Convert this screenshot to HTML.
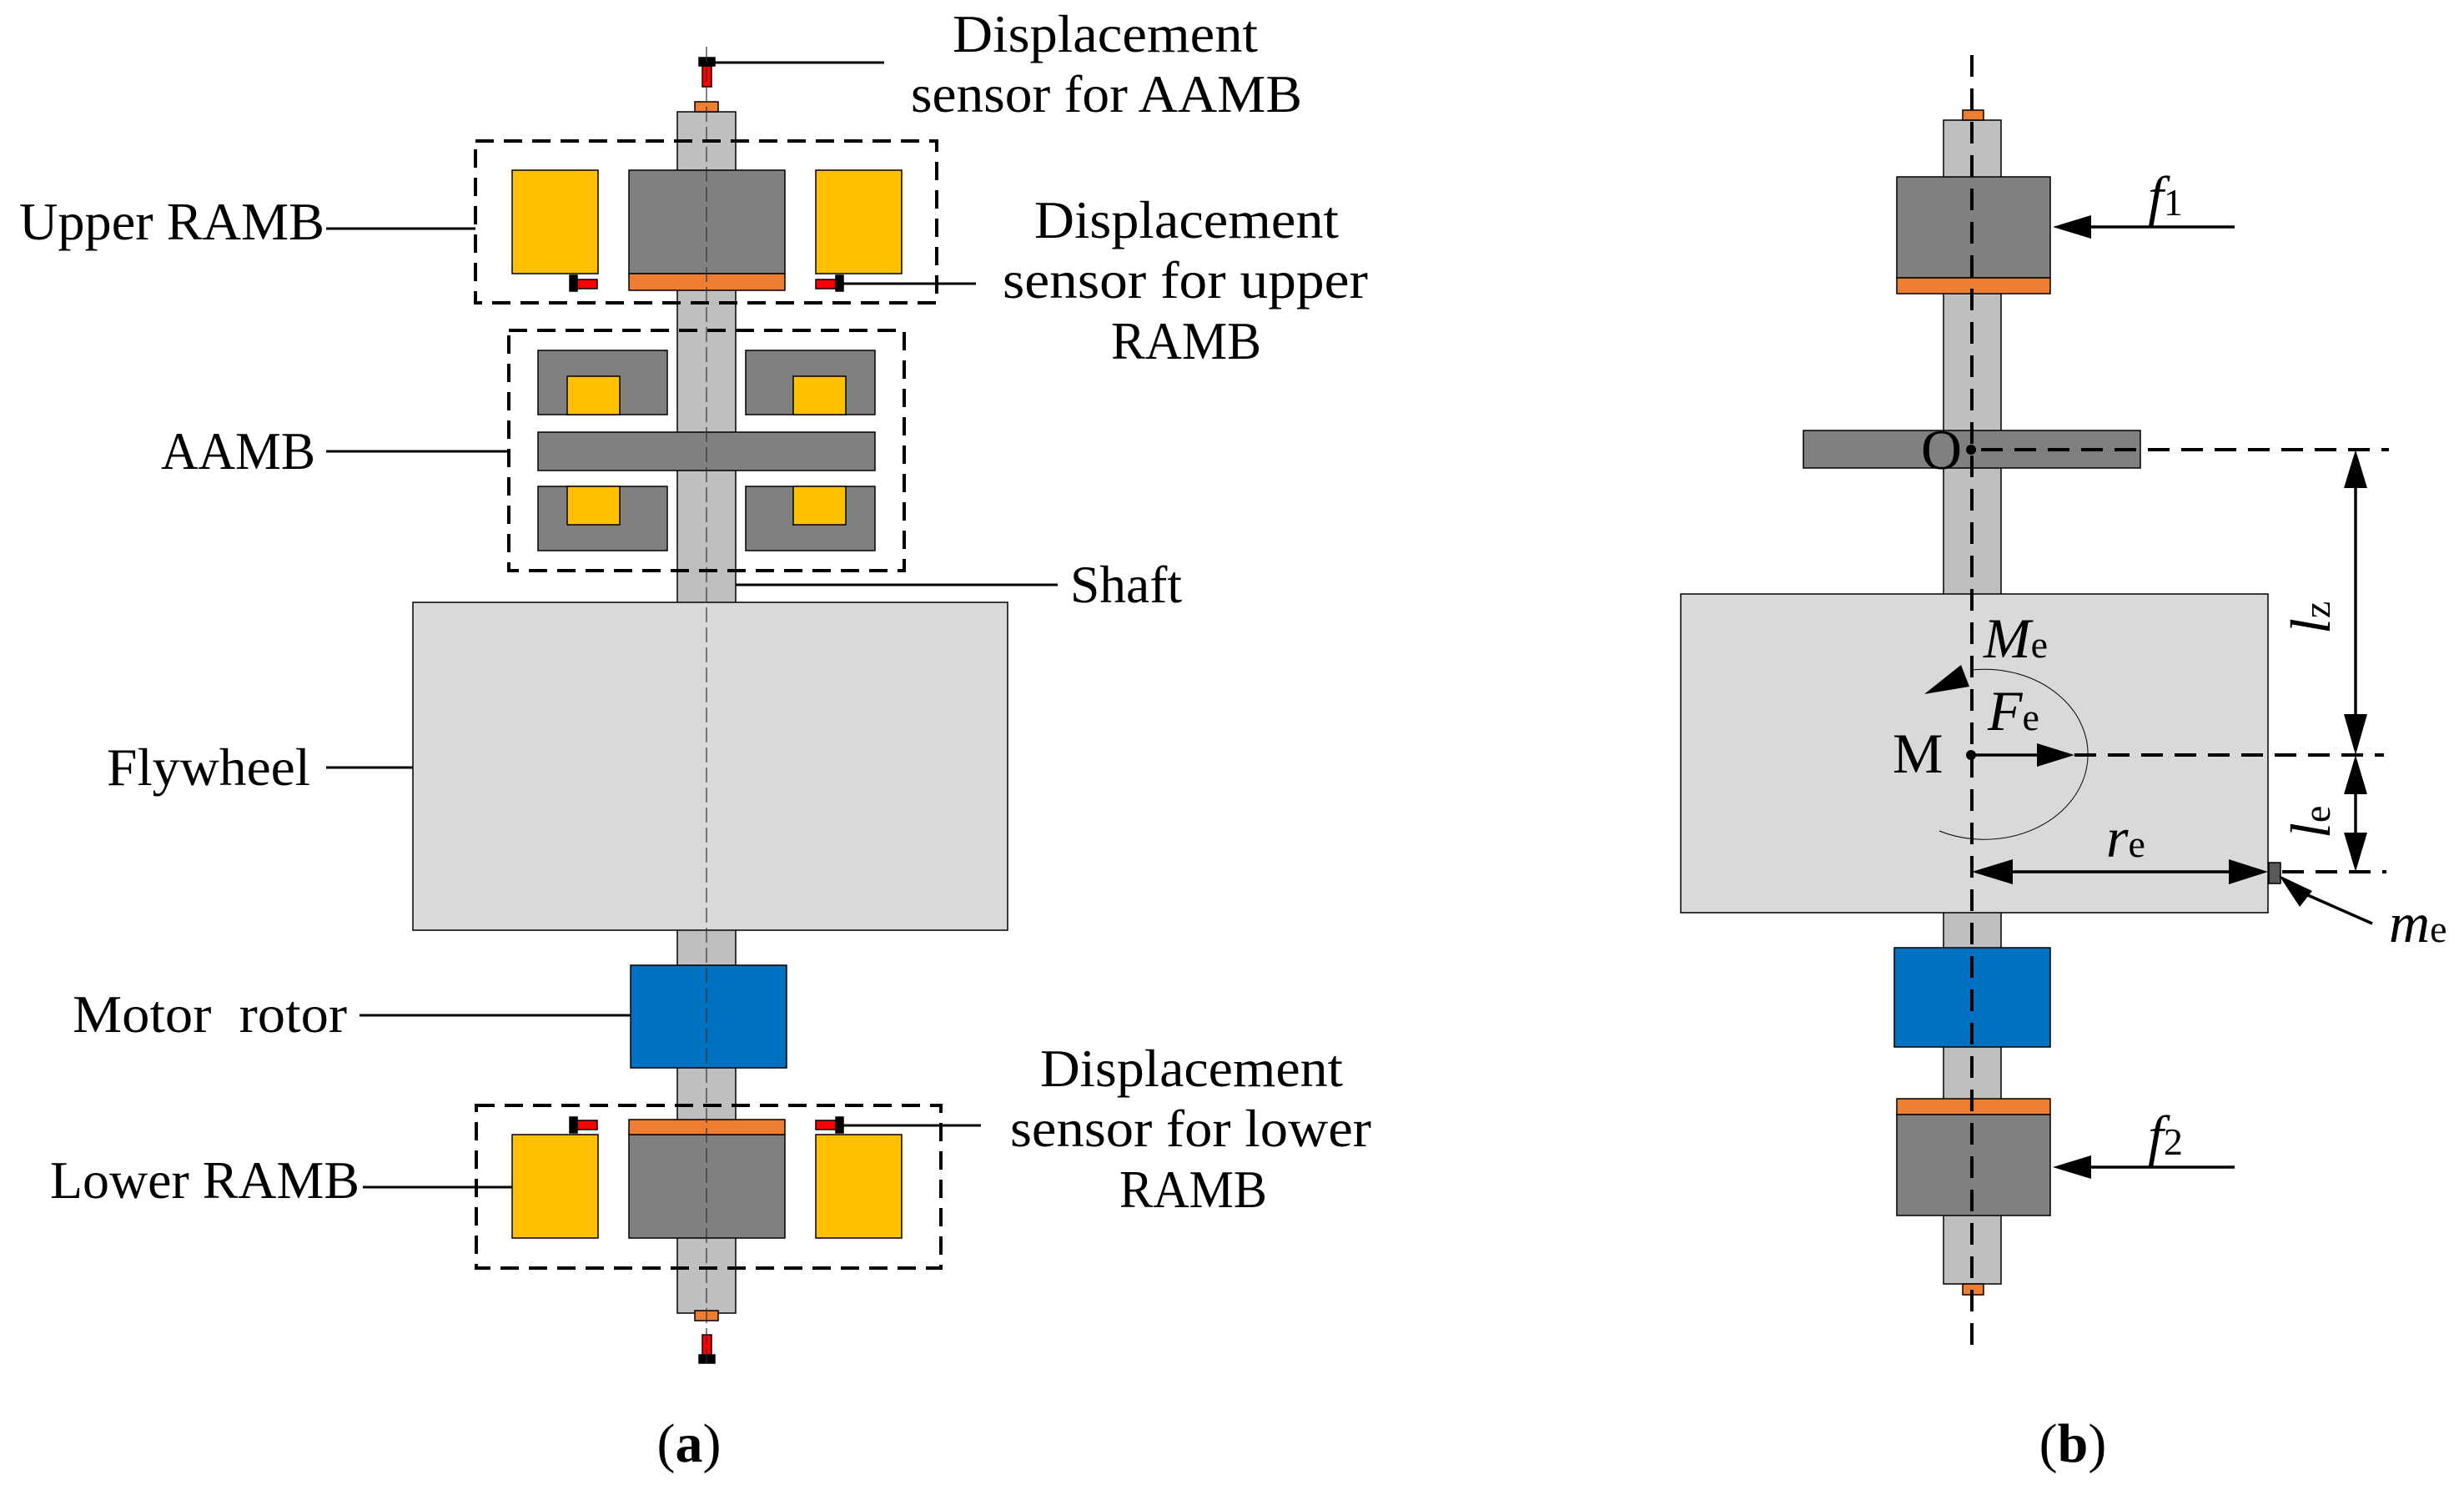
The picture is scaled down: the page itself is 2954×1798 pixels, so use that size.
<!DOCTYPE html>
<html><head><meta charset="utf-8"><style>
html,body{margin:0;padding:0;background:#fff}
svg{display:block}
text{font-family:"Liberation Serif",serif;fill:#000}
</style></head><body>
<svg width="2954" height="1798" viewBox="0 0 2954 1798" xmlns="http://www.w3.org/2000/svg">
<g stroke="#000" stroke-width="1.5">
<rect x="812" y="134" width="70" height="1440" fill="#bfbfbf"/>
<rect x="614" y="204" width="103" height="124" fill="#ffc000"/>
<rect x="978" y="204" width="103" height="124" fill="#ffc000"/>
<rect x="754" y="204" width="187" height="124" fill="#808080"/>
<rect x="754" y="328" width="187" height="20" fill="#ed7d31"/>
<rect x="692" y="335" width="24" height="11" fill="#ff0000"/>
<rect x="683" y="330" width="9" height="19" fill="#000"/>
<rect x="978" y="335" width="24" height="11" fill="#ff0000"/>
<rect x="1002" y="330" width="9" height="19" fill="#000"/>
<rect x="645" y="420" width="155" height="77" fill="#808080"/>
<rect x="680" y="451" width="63" height="46" fill="#ffc000"/>
<rect x="894" y="420" width="155" height="77" fill="#808080"/>
<rect x="951" y="451" width="63" height="46" fill="#ffc000"/>
<rect x="645" y="518" width="404" height="46" fill="#808080"/>
<rect x="645" y="583" width="155" height="77" fill="#808080"/>
<rect x="680" y="583" width="63" height="46" fill="#ffc000"/>
<rect x="894" y="583" width="155" height="77" fill="#808080"/>
<rect x="951" y="583" width="63" height="46" fill="#ffc000"/>
<rect x="495" y="722" width="713" height="393" fill="#d9d9d9"/>
<rect x="756" y="1157" width="187" height="123" fill="#0070c0"/>
<rect x="614" y="1360" width="103" height="124" fill="#ffc000"/>
<rect x="978" y="1360" width="103" height="124" fill="#ffc000"/>
<rect x="754" y="1360" width="187" height="124" fill="#808080"/>
<rect x="754" y="1342" width="187" height="18" fill="#ed7d31"/>
<rect x="692" y="1343" width="24" height="11" fill="#ff0000"/>
<rect x="683" y="1339" width="9" height="19" fill="#000"/>
<rect x="978" y="1343" width="24" height="11" fill="#ff0000"/>
<rect x="1002" y="1339" width="9" height="19" fill="#000"/>
<rect x="833" y="122" width="28" height="12" fill="#ed7d31"/>
<rect x="842" y="79" width="11" height="25" fill="#ff0000"/>
<rect x="838" y="69" width="19" height="10" fill="#000"/>
<rect x="833" y="1571" width="28" height="12" fill="#ed7d31"/>
<rect x="842" y="1600" width="11" height="24" fill="#ff0000"/>
<rect x="838" y="1624" width="19" height="10" fill="#000"/>
</g>
<line x1="847" y1="56" x2="847" y2="1640" stroke="#333" stroke-width="1.2" stroke-dasharray="18,6"/>
<g fill="none" stroke="#000" stroke-width="4" stroke-dasharray="22,12">
<rect x="570" y="169" width="553" height="194"/>
<rect x="610" y="396" width="474" height="288"/>
<rect x="571" y="1325" width="557" height="195"/>
</g>
<g stroke="#000" stroke-width="3">
<line x1="857" y1="75" x2="1060" y2="75"/>
<line x1="391" y1="274" x2="570" y2="274"/>
<line x1="1011" y1="340" x2="1170" y2="340"/>
<line x1="391" y1="541" x2="610" y2="541"/>
<line x1="882" y1="701" x2="1268" y2="701"/>
<line x1="391" y1="920" x2="495" y2="920"/>
<line x1="431" y1="1217" x2="756" y2="1217"/>
<line x1="1011" y1="1349" x2="1176" y2="1349"/>
<line x1="435" y1="1423" x2="614" y2="1423"/>
</g>
<g font-size="64" lengthAdjust="spacingAndGlyphs">
<text x="1142" y="62" textLength="366" lengthAdjust="spacingAndGlyphs">Displacement</text>
<text x="1092" y="134" textLength="469" lengthAdjust="spacingAndGlyphs">sensor for AAMB</text>
<text x="23" y="287" textLength="366" lengthAdjust="spacingAndGlyphs">Upper RAMB</text>
<text x="1240" y="285" textLength="365" lengthAdjust="spacingAndGlyphs">Displacement</text>
<text x="1202" y="357" textLength="438" lengthAdjust="spacingAndGlyphs">sensor for upper</text>
<text x="1332" y="430" textLength="180" lengthAdjust="spacingAndGlyphs">RAMB</text>
<text x="193" y="562" textLength="185" lengthAdjust="spacingAndGlyphs">AAMB</text>
<text x="1283" y="722" textLength="134" lengthAdjust="spacingAndGlyphs">Shaft</text>
<text x="128" y="941" textLength="244" lengthAdjust="spacingAndGlyphs">Flywheel</text>
<text x="87" y="1237" textLength="329" lengthAdjust="spacingAndGlyphs" xml:space="preserve">Motor  rotor</text>
<text x="1247" y="1302" textLength="363" lengthAdjust="spacingAndGlyphs">Displacement</text>
<text x="1211" y="1374" textLength="433" lengthAdjust="spacingAndGlyphs">sensor for lower</text>
<text x="1342" y="1447" textLength="177" lengthAdjust="spacingAndGlyphs">RAMB</text>
<text x="60" y="1436" textLength="371" lengthAdjust="spacingAndGlyphs">Lower RAMB</text>
</g>
<text x="826" y="1752" font-size="66" text-anchor="middle">(<tspan font-weight="bold">a</tspan>)</text>
<text x="2485" y="1752" font-size="66" text-anchor="middle">(<tspan font-weight="bold">b</tspan>)</text>

<g transform="translate(-5,0)">
<g stroke="#000" stroke-width="1.5">
<rect x="2335" y="144" width="69" height="1395" fill="#bfbfbf"/>
<rect x="2358" y="132" width="25" height="12" fill="#ed7d31"/>
<rect x="2358" y="1539" width="25" height="13" fill="#ed7d31"/>
<rect x="2279" y="212" width="184" height="121" fill="#808080"/>
<rect x="2279" y="333" width="184" height="19" fill="#ed7d31"/>
<rect x="2167" y="516" width="404" height="45" fill="#808080"/>
<rect x="2020" y="712" width="704" height="382" fill="#d9d9d9"/>
<rect x="2276" y="1136" width="187" height="119" fill="#0070c0"/>
<rect x="2279" y="1317" width="184" height="19" fill="#ed7d31"/>
<rect x="2279" y="1336" width="184" height="121" fill="#808080"/>
<rect x="2725" y="1034" width="14" height="25" fill="#595959"/>
</g>
<g stroke="#000" stroke-width="4" fill="none" stroke-dasharray="26,14">
<line x1="2369" y1="66" x2="2369" y2="1616"/>
<line x1="2380" y1="539" x2="2869" y2="539"/>
<line x1="2492" y1="905" x2="2863" y2="905"/>
<line x1="2741" y1="1045" x2="2866" y2="1045"/>
</g>
<circle cx="2368" cy="539" r="6" fill="#000"/>
<circle cx="2368" cy="905" r="6" fill="#000"/>
<path d="M2369 803 A124 102 0 1 1 2330 996" fill="none" stroke="#000" stroke-width="1"/>
<polygon points="2356,797 2366,823 2312,832" fill="#000"/>
<g stroke="#000" stroke-width="3.5">
<line x1="2369" y1="905" x2="2450" y2="905"/>
<line x1="2684" y1="272" x2="2500" y2="272"/>
<line x1="2684" y1="1399" x2="2500" y2="1399"/>
<line x1="2829" y1="585" x2="2829" y2="860"/>
<line x1="2829" y1="950" x2="2829" y2="1000"/>
<line x1="2410" y1="1045" x2="2686" y2="1045"/>
<line x1="2849" y1="1107" x2="2765" y2="1070"/>
</g>
<g fill="#000">
<polygon points="2492,905 2447,891 2447,919"/>
<polygon points="2466,272 2512,258 2512,286"/>
<polygon points="2466,1399 2512,1385 2512,1413"/>
<polygon points="2829,539 2815,585 2843,585"/>
<polygon points="2829,905 2815,856 2843,856"/>
<polygon points="2829,905 2815,952 2843,952"/>
<polygon points="2829,1045 2815,998 2843,998"/>
<polygon points="2369,1045 2418,1030 2418,1060"/>
<polygon points="2724,1045 2677,1030 2677,1060"/>
<polygon points="2737,1049 2777,1068 2762,1087"/>
</g>
<g font-size="68">
<text x="2308" y="562">O</text>
<text x="2383" y="788"><tspan font-style="italic">M</tspan><tspan font-size="46">e</tspan></text>
<text x="2388" y="875"><tspan font-style="italic">F</tspan><tspan font-size="46">e</tspan></text>
<text x="2274" y="926">M</text>
<text x="2530" y="1027"><tspan font-style="italic">r</tspan><tspan font-size="46">e</tspan></text>
<text x="2869" y="1129"><tspan font-style="italic">m</tspan><tspan font-size="46">e</tspan></text>
<text x="2580" y="258"><tspan font-style="italic">f</tspan><tspan font-size="46">1</tspan></text>
<text x="2580" y="1384"><tspan font-style="italic">f</tspan><tspan font-size="46">2</tspan></text>
<text transform="translate(2798,760) rotate(-90)"><tspan font-style="italic">l</tspan><tspan font-size="46">z</tspan></text>
<text transform="translate(2798,1005) rotate(-90)"><tspan font-style="italic">l</tspan><tspan font-size="46">e</tspan></text>
</g>
</g>
</svg>
</body></html>
